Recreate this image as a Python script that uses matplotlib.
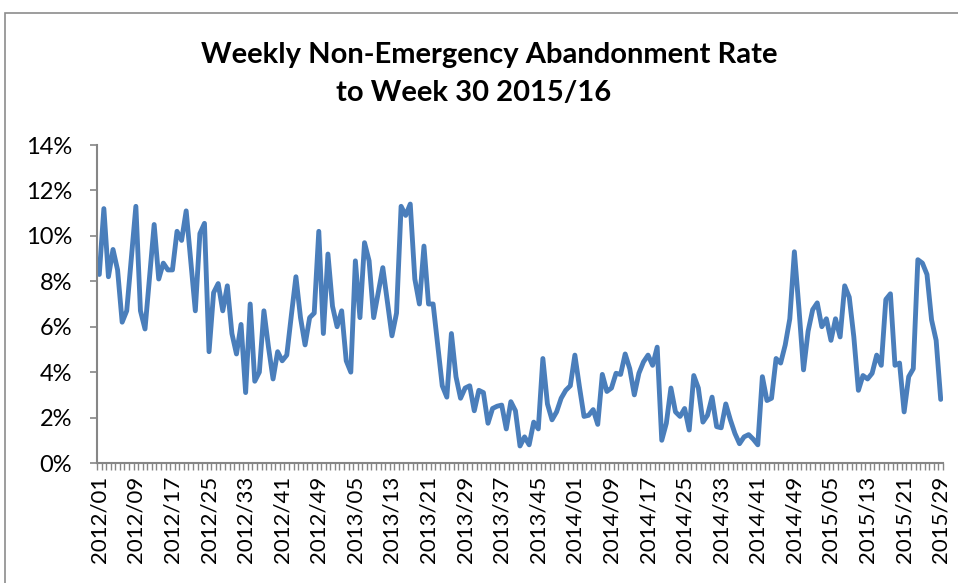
import matplotlib

matplotlib.use("Agg")
import matplotlib.pyplot as plt
from matplotlib.patches import Rectangle
from matplotlib.ticker import FixedLocator, FuncFormatter

TITLE_LINE_1 = "Weekly Non-Emergency Abandonment Rate"
TITLE_LINE_2 = "to Week 30 2015/16"

# weekly abandonment rate (%)
RATE_2012 = [
    8.3, 11.2, 8.2, 9.4, 8.5, 6.2, 6.7, 9.0, 11.3, 6.7,
    5.9, 8.2, 10.5, 8.1, 8.8, 8.5, 8.5, 10.2, 9.8, 11.1,
    8.9, 6.7, 10.1, 10.55, 4.9, 7.5, 7.9, 6.7, 7.8, 5.7,
    4.8, 6.1, 3.1, 7.0, 3.6, 4.0, 6.7, 5.1, 3.7, 4.9,
    4.5, 4.75, 6.5, 8.2, 6.4, 5.2, 6.4, 6.6, 10.2, 5.7,
    9.2, 6.9,
]
RATE_2013 = [
    6.0, 6.7, 4.5, 4.0, 8.9, 6.4, 9.7, 8.9, 6.4, 7.5,
    8.6, 7.1, 5.6, 6.6, 11.3, 10.9, 11.4, 8.1, 7.0, 9.55,
    7.0, 7.0, 5.2, 3.4, 2.9, 5.7, 3.8, 2.85, 3.3, 3.4,
    2.3, 3.2, 3.1, 1.75, 2.4, 2.5, 2.55, 1.5, 2.7, 2.3,
    0.75, 1.15, 0.8, 1.8, 1.5, 4.6, 2.6, 1.9, 2.25, 2.85,
    3.2, 3.4,
]
RATE_2014 = [
    4.75, 3.35, 2.05, 2.1, 2.35, 1.7, 3.9, 3.15, 3.3, 3.95,
    3.9, 4.8, 4.15, 3.0, 3.95, 4.45, 4.75, 4.3, 5.1, 1.0,
    1.75, 3.3, 2.25, 2.05, 2.4, 1.45, 3.85, 3.3, 1.8, 2.1,
    2.9, 1.6, 1.55, 2.6, 1.9, 1.3, 0.85, 1.15, 1.25, 1.05,
    0.8, 3.8, 2.75, 2.85, 4.6, 4.4, 5.2, 6.35, 9.3, 6.8,
    4.1, 5.8,
]
RATE_2015 = [
    6.75, 7.05, 6.0, 6.35, 5.4, 6.35, 5.55, 7.8, 7.3, 5.55,
    3.2, 3.85, 3.7, 3.95, 4.75, 4.3, 7.2, 7.45, 4.3, 4.4,
    2.25, 3.8, 4.15, 8.95, 8.8, 8.3, 6.3, 5.4, 2.8,
]

TICK_LABELS = [
    "2012/01", "2012/09", "2012/17", "2012/25", "2012/33", "2012/41",
    "2012/49", "2013/05", "2013/13", "2013/21", "2013/29", "2013/37",
    "2013/45", "2014/01", "2014/09", "2014/17", "2014/25", "2014/33",
    "2014/41", "2014/49", "2015/05", "2015/13", "2015/21", "2015/29",
]
LABEL_EVERY = 8

LINE_COLOR = "#4a7ebb"
AXIS_COLOR = "#868686"
FONT = ["Lato", "DejaVu Sans"]

rates = RATE_2012 + RATE_2013 + RATE_2014 + RATE_2015
n = len(rates)
x = list(range(n))

plt.rcParams["font.family"] = FONT

W, H = 958, 583
fig = plt.figure(figsize=(W / 100, H / 100), dpi=100)
fig.patch.set_facecolor("white")

# chart-area border (runs off the right and bottom edges)
fig.patches.append(
    Rectangle((5 / W, -0.05), 1.2, 1 - 13 / H + 0.05, transform=fig.transFigure,
              fill=False, edgecolor="#8c8c8c", linewidth=1.2)
)

ax = fig.add_axes([97 / W, 1 - 463 / H, (943 - 97) / W, (463 - 145) / H])
ax.plot(x, rates, color=LINE_COLOR, linewidth=3.5, solid_joinstyle="round",
        solid_capstyle="round")

ax.set_xlim(-0.5, n - 0.5)
ax.set_ylim(0, 14)
ax.yaxis.set_major_locator(FixedLocator(range(0, 15, 2)))
ax.yaxis.set_major_formatter(FuncFormatter(lambda v, _: f"{int(v)}%"))

ax.set_xticks([i * LABEL_EVERY for i in range(len(TICK_LABELS))], labels=TICK_LABELS,
              rotation=90)
ax.set_xticks([i - 0.5 for i in range(n + 1)], minor=True)
ax.tick_params(axis="x", which="major", length=0, pad=9, labelsize=16, colors="black")
ax.tick_params(axis="x", which="minor", length=5, width=1.0, color=AXIS_COLOR)
ax.tick_params(axis="y", which="major", length=5, width=1.2, color=AXIS_COLOR,
               pad=13, labelsize=17)

for side in ("top", "right"):
    ax.spines[side].set_visible(False)
for side in ("left", "bottom"):
    ax.spines[side].set_color(AXIS_COLOR)
    ax.spines[side].set_linewidth(1.5)

fig.text(489 / W, 1 - 55 / H, TITLE_LINE_1, ha="center", va="center",
         fontsize=21, fontweight="bold")
fig.text(474 / W, 1 - 93 / H, TITLE_LINE_2, ha="center", va="center",
         fontsize=21, fontweight="bold")

fig.savefig("out.png", dpi=100, facecolor="white")
